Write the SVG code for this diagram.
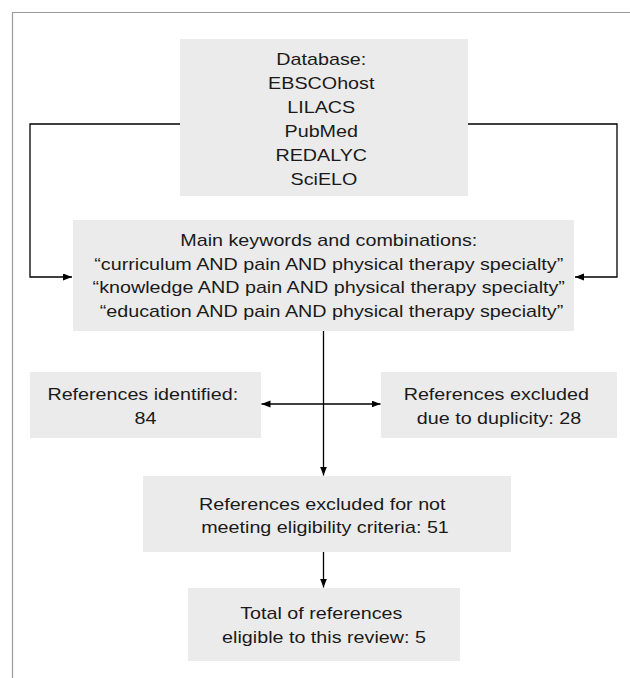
<svg xmlns="http://www.w3.org/2000/svg" width="630" height="678" viewBox="0 0 630 678">
  <style>
    .box { fill: #ebebeb; stroke: none; }
    .lbl { font-family: "Liberation Sans", Arial, sans-serif; font-size: 17px; fill: #1a1a1a; text-anchor: middle; }
    .conn { fill: none; stroke: #000; stroke-width: 1.3; }
    .frame { fill: none; stroke: #9a9a9a; stroke-width: 1.2; }
  </style>
  <defs>
    <marker id="arr" markerUnits="userSpaceOnUse" markerWidth="10" markerHeight="8" refX="9" refY="3.5" orient="auto">
      <path d="M0,0 L9,3.5 L0,7 z" fill="#000"/>
    </marker>
  </defs>
  <rect width="630" height="678" fill="#fff"/>
  <path class="frame" d="M12.5,678 V12.5 H630"/>

  <g id="connectors">
    <polyline class="conn" points="180,124 30,124 30,277 72,277" marker-end="url(#arr)"/>
    <polyline class="conn" points="468,124 617,124 617,277 575,277" marker-end="url(#arr)"/>
    <line class="conn" x1="323.5" y1="331" x2="323.5" y2="475.5" marker-end="url(#arr)"/>
    <line class="conn" x1="323.5" y1="404" x2="261.5" y2="404" marker-end="url(#arr)"/>
    <line class="conn" x1="323.5" y1="404" x2="380.5" y2="404" marker-end="url(#arr)"/>
    <line class="conn" x1="323.5" y1="552" x2="323.5" y2="587.5" marker-end="url(#arr)"/>
  </g>

  <g id="database">
    <rect class="box" x="180" y="39" width="288" height="157"/>
    <text class="lbl" transform="matrix(1.16 0 0 1 324 0)">
      <tspan x="0" y="65.5">Database:</tspan>
      <tspan x="0" y="89.4">EBSCOhost</tspan>
      <tspan x="0" y="113.3">LILACS</tspan>
      <tspan x="0" y="137.2">PubMed</tspan>
      <tspan x="0" y="161.1">REDALYC</tspan>
      <tspan x="0" y="185">SciELO</tspan>
    </text>
  </g>

  <g id="keywords">
    <rect class="box" x="73" y="220" width="501" height="111"/>
    <text class="lbl" transform="matrix(1.16 0 0 1 331.5 0)">
      <tspan x="0" y="246">Main keywords and combinations:</tspan>
      <tspan x="0" y="269.6">“curriculum AND pain AND physical therapy specialty”</tspan>
      <tspan x="0" y="293.2">“knowledge AND pain AND physical therapy specialty”</tspan>
      <tspan x="0" y="316.8">“education AND pain AND physical therapy specialty”</tspan>
    </text>
  </g>

  <g id="identified">
    <rect class="box" x="30" y="372" width="231" height="66"/>
    <text class="lbl" transform="matrix(1.16 0 0 1 145.5 0)">
      <tspan x="0" y="400">References identified:</tspan>
      <tspan x="0" y="424">84</tspan>
    </text>
  </g>

  <g id="duplicity">
    <rect class="box" x="381" y="372" width="236" height="66"/>
    <text class="lbl" transform="matrix(1.16 0 0 1 499 0)">
      <tspan x="0" y="400">References excluded</tspan>
      <tspan x="0" y="424">due to duplicity: 28</tspan>
    </text>
  </g>

  <g id="eligibility">
    <rect class="box" x="143" y="476" width="368" height="76"/>
    <text class="lbl" transform="matrix(1.16 0 0 1 325 0)">
      <tspan x="0" y="510">References excluded for not</tspan>
      <tspan x="0" y="533.5">meeting eligibility criteria: 51</tspan>
    </text>
  </g>

  <g id="total">
    <rect class="box" x="188" y="588" width="272" height="73"/>
    <text class="lbl" transform="matrix(1.16 0 0 1 324 0)">
      <tspan x="0" y="619.5">Total of references</tspan>
      <tspan x="0" y="643">eligible to this review: 5</tspan>
    </text>
  </g>
</svg>
